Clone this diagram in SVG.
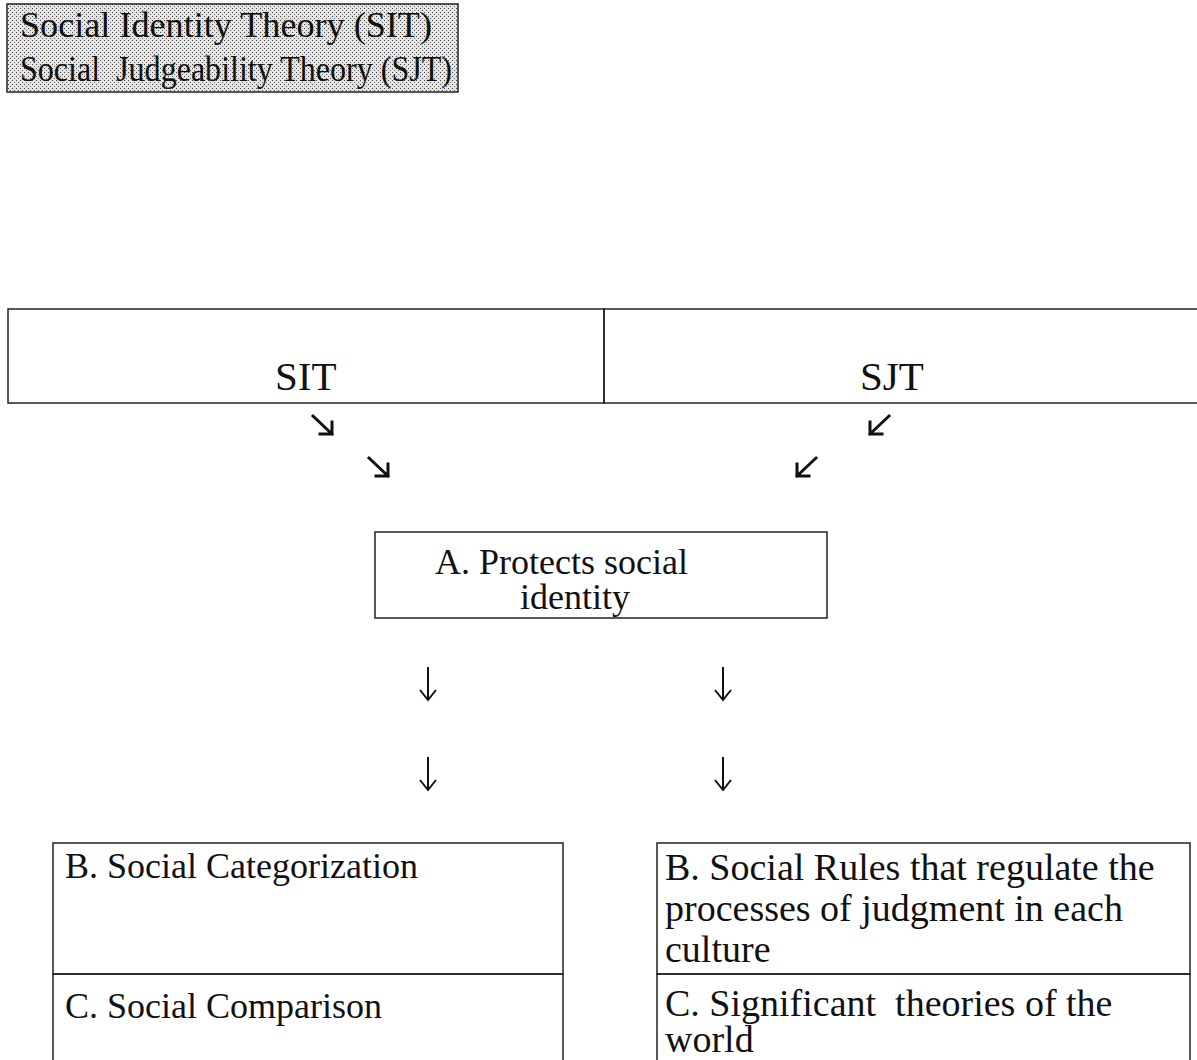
<svg xmlns="http://www.w3.org/2000/svg" width="1197" height="1060" viewBox="0 0 1197 1060">
<defs>
<pattern id="stip" width="4" height="4" patternUnits="userSpaceOnUse">
<rect width="4" height="4" fill="#e4e4e4"/>
<rect x="0" y="0" width="1" height="1" fill="#444"/>
<rect x="2" y="2" width="1" height="1" fill="#666"/>
</pattern>
<style>
.t{font-family:"Liberation Serif","Times New Roman",serif;fill:#111;white-space:pre}
.box{fill:none;stroke:#222;stroke-width:1.5}
.arr{fill:none;stroke:#111;stroke-width:3;stroke-linecap:square}
.dn{fill:none;stroke:#111;stroke-width:2}
</style>
</defs>
<rect width="1197" height="1060" fill="#fff"/>

<g id="legend">
<rect x="7" y="4" width="451" height="88" fill="url(#stip)" stroke="#222" stroke-width="1.5"/>
<text class="t" x="20" y="37" font-size="35" textLength="412" lengthAdjust="spacingAndGlyphs">Social Identity Theory (SIT)</text>
<text class="t" x="20" y="81" font-size="35" textLength="432" lengthAdjust="spacingAndGlyphs">Social  Judgeability Theory (SJT)</text>
</g>

<g id="sit">
<rect class="box" x="8" y="309" width="596" height="94"/>
<text class="t" x="275" y="390" font-size="41">SIT</text>
</g>
<g id="sjt">
<rect class="box" x="604" y="309" width="600" height="94"/>
<text class="t" x="860" y="390" font-size="41">SJT</text>
</g>

<g id="protects">
<rect class="box" x="375" y="532" width="452" height="86"/>
<text class="t" x="435" y="574" font-size="36">A. Protects social</text>
<text class="t" x="520" y="609" font-size="36">identity</text>
</g>

<g id="sit-b">
<rect class="box" x="53" y="843" width="510" height="131"/>
<text class="t" x="65" y="878" font-size="36">B. Social Categorization</text>
</g>
<g id="sit-c">
<rect class="box" x="53" y="974" width="510" height="100"/>
<text class="t" x="65" y="1018" font-size="36">C. Social Comparison</text>
</g>

<g id="sjt-b">
<rect class="box" x="657" y="843" width="533" height="131"/>
<text class="t" x="665" y="880" font-size="38">B. Social Rules that regulate the</text>
<text class="t" x="665" y="921" font-size="38">processes of judgment in each</text>
<text class="t" x="665" y="962" font-size="38">culture</text>
</g>
<g id="sjt-c">
<rect class="box" x="657" y="974" width="533" height="100"/>
<text class="t" x="665" y="1016" font-size="38">C. Significant  theories of the</text>
<text class="t" x="665" y="1052" font-size="38">world</text>
</g>

<g id="connectors">
<path class="arr" d="M313 416 L332 434 M332 422 L332 434 L320 434"/>
<path class="arr" d="M369 458 L388 476 M388 464 L388 476 L376 476"/>
<path class="arr" d="M889 416 L870 434 M870 422 L870 434 L882 434"/>
<path class="arr" d="M816 458 L797 476 M797 464 L797 476 L809 476"/>
<path class="dn" d="M428 667 L428 699 M420 690 L428 700 L436 690"/>
<path class="dn" d="M428 757 L428 789 M420 780 L428 790 L436 780"/>
<path class="dn" d="M723 667 L723 699 M715 690 L723 700 L731 690"/>
<path class="dn" d="M723 757 L723 789 M715 780 L723 790 L731 780"/>
</g>
</svg>
